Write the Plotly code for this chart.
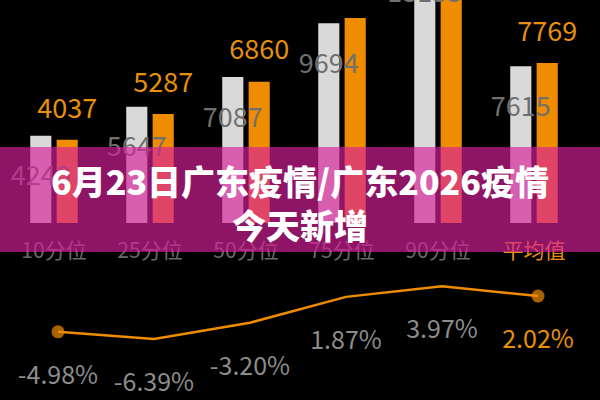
import plotly.graph_objects as go

# 数据
cats = ["10分位", "25分位", "50分位", "75分位", "90分位", "平均值"]
base_vals = [4240, 5647, 7087, 9694, 13155, 7615]   # 灰白柱
new_vals = [4037, 5287, 6860, 9950, 13600, 7769]    # 橙色柱
pct_vals = [-4.98, -6.39, -3.20, 1.87, 3.97, 2.02]  # 折线
title_txt = "6月23日广东疫情/广东2026疫情<br>今天新增"

W, H = 600, 400
STEP = 96        # 每个分类的像素宽度
X0 = 54          # 第一个分类中心
BAR_Y0 = 223     # 柱子底部
BAR_K = 0.0206   # 像素/单位
LINE_Y0 = 306.4  # 折线 0 值的位置
LINE_K = 5.1

ORANGE = "#F08C00"
FONT = "Noto Sans CJK SC"


def xr(dx=0):
    c = X0 + dx
    return [-c / STEP, (W - c) / STEP]


def yr(y0, k, dy=0):
    y0 = y0 + dy
    return [-(H - y0) / k, y0 / k]


fig = go.Figure()

fig.add_trace(go.Bar(x=cats, y=base_vals, marker_color="#D9D9D9", marker_line_width=0))
fig.add_trace(go.Bar(x=cats, y=new_vals, marker_color=ORANGE, marker_line_width=0))

# 灰色数值（柱顶下方）
fig.add_trace(go.Scatter(x=cats, y=base_vals, mode="text", text=[str(v) for v in base_vals],
                         textfont=dict(family=FONT, size=27, color="#707070"),
                         xaxis="x2", yaxis="y2"))
# 橙色数值（柱顶上方）
fig.add_trace(go.Scatter(x=cats, y=new_vals, mode="text", text=[str(v) for v in new_vals],
                         textfont=dict(family=FONT, size=27, color="#E8900A"),
                         xaxis="x3", yaxis="y3"))
# 折线
fig.add_trace(go.Scatter(x=cats, y=pct_vals, mode="lines+markers",
                         line=dict(color=ORANGE, width=2.5),
                         marker=dict(size=[13, 0, 0, 0, 0, 13], color=ORANGE,
                                     line_width=0),
                         xaxis="x4", yaxis="y4"))
fig.add_trace(go.Scatter(x=cats, y=pct_vals, mode="text",
                         text=[f"{v:.2f}%" for v in pct_vals],
                         textfont=dict(family=FONT, size=25,
                                       color=["#8C8C8C"] * 5 + ["#E8900A"]),
                         xaxis="x4", yaxis="y5"))

hidden = dict(visible=False, showgrid=False, zeroline=False, fixedrange=True)
ticktext = cats[:-1] + ['<span style="color:#E8900A">' + cats[-1] + "</span>"]

fig.update_layout(
    width=W, height=H,
    margin=dict(l=0, r=0, t=0, b=0),
    paper_bgcolor="black", plot_bgcolor="black",
    showlegend=False, hovermode=False,
    barmode="group", bargap=0.45, bargroupgap=0.2,
    xaxis=dict(range=xr(), anchor="free", position=(H - BAR_Y0) / H,
               showgrid=False, zeroline=False, showline=False, ticks="",
               tickmode="array", tickvals=cats, ticktext=ticktext,
               ticklabelstandoff=13, fixedrange=True,
               tickfont=dict(family=FONT, size=21, color="#6A6A6A")),
    yaxis=dict(range=yr(BAR_Y0, BAR_K), **hidden),
    xaxis2=dict(range=xr(-13.25), overlaying="x", anchor="y2", **hidden),
    yaxis2=dict(range=yr(BAR_Y0, BAR_K, 43), overlaying="y", anchor="x2", **hidden),
    xaxis3=dict(range=xr(13.25), overlaying="x", anchor="y3", **hidden),
    yaxis3=dict(range=yr(BAR_Y0, BAR_K, -29), overlaying="y", anchor="x3", **hidden),
    xaxis4=dict(range=xr(4), overlaying="x", anchor="y4", **hidden),
    yaxis4=dict(range=yr(LINE_Y0, LINE_K), overlaying="y", anchor="x4", **hidden),
    yaxis5=dict(range=yr(LINE_Y0, LINE_K, 46), overlaying="y", anchor="x4", **hidden),
    shapes=[dict(type="rect", xref="paper", yref="paper", x0=0, x1=1,
                 y0=(H - 252) / H, y1=(H - 147) / H,
                 fillcolor="rgba(215, 30, 155, 0.66)", line_width=0, layer="above")],
    annotations=[dict(text=title_txt, xref="paper", yref="paper",
                      x=0.5, y=(H - 202) / H,
                      showarrow=False, align="center",
                      font=dict(family=FONT, size=34, color="white", weight=900))],
)

# 去掉页面默认的 8px 边距
fig.write_html("out.html", config={"displayModeBar": False},
               post_script="document.body.style.margin='0';")
